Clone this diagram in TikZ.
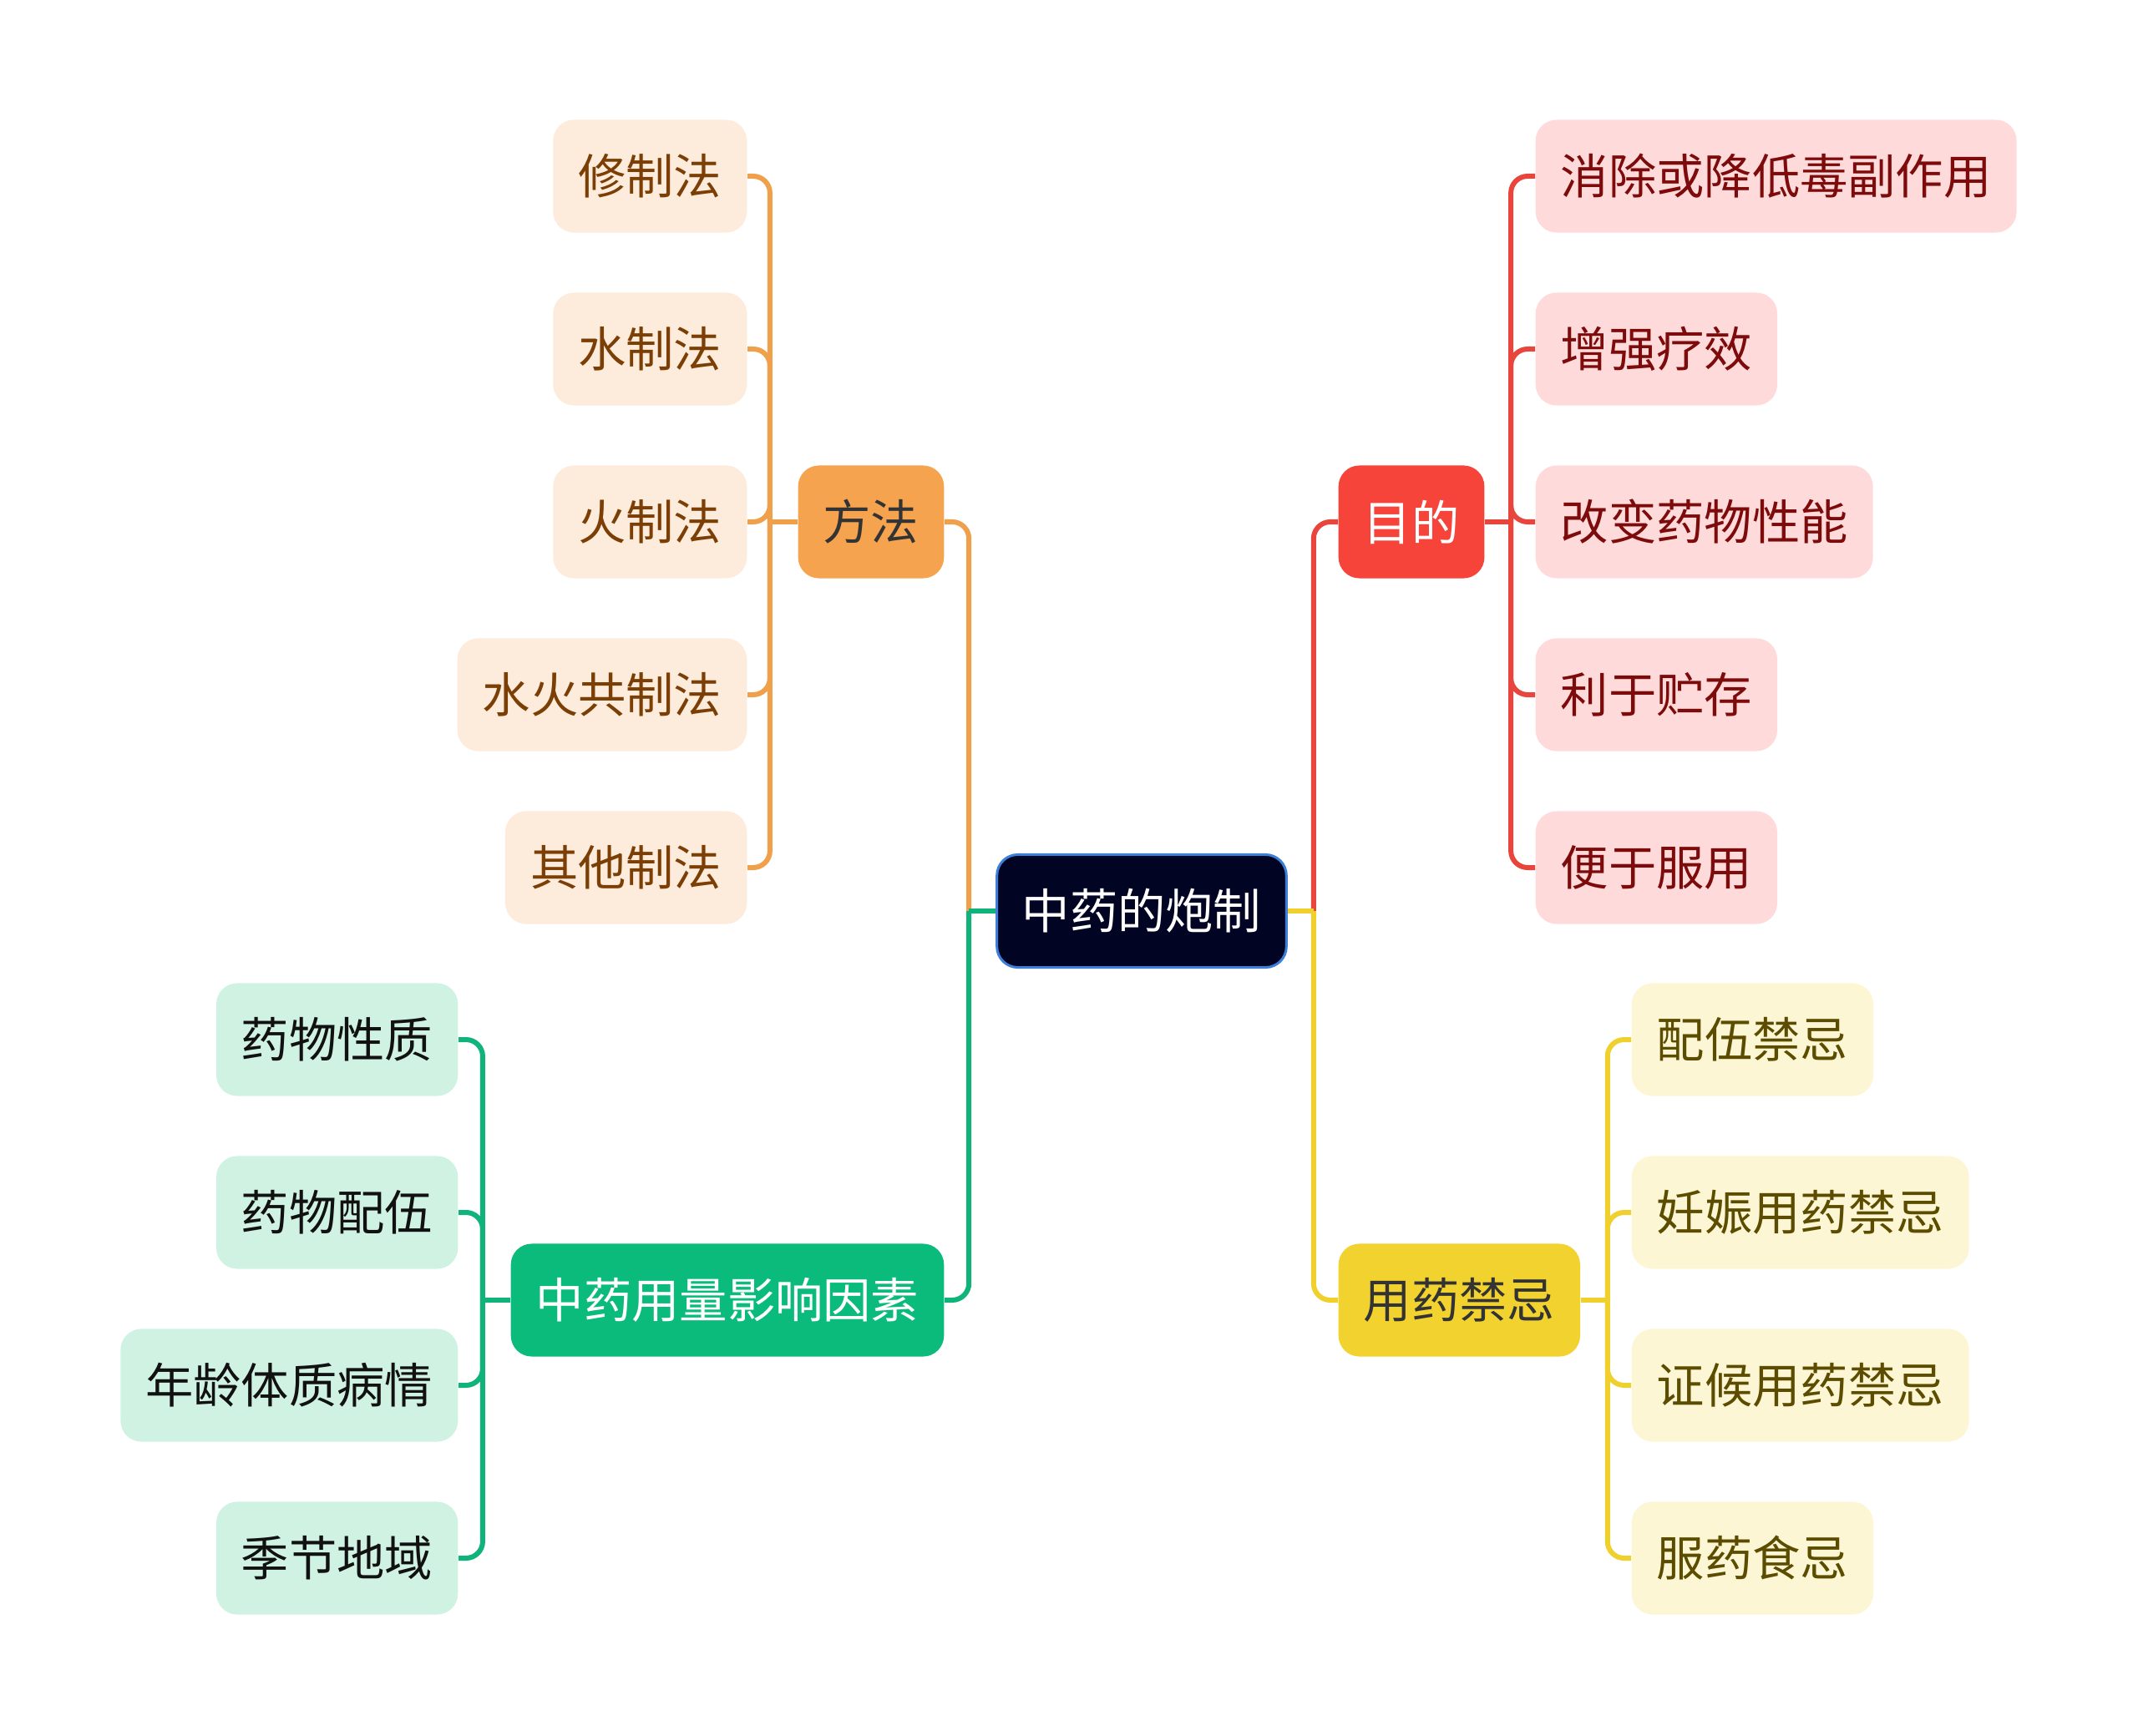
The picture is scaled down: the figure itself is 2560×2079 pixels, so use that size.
\documentclass[tikz,border=0pt]{standalone}
\usepackage{fontspec}
\newfontfamily\cjk{Noto Sans CJK SC}
\usetikzlibrary{positioning}

\definecolor{rootfill}{RGB}{2,4,36}
\definecolor{rootline}{RGB}{60,127,216}
\definecolor{hubtext}{RGB}{51,51,51}
\definecolor{orhub}{RGB}{245,163,79}
\definecolor{orline}{RGB}{240,160,75}
\definecolor{orleaf}{RGB}{253,235,219}
\definecolor{ortext}{RGB}{123,63,6}
\definecolor{redhub}{RGB}{246,68,59}
\definecolor{redline}{RGB}{232,70,61}
\definecolor{redleaf}{RGB}{254,218,218}
\definecolor{redtext}{RGB}{125,11,11}
\definecolor{grhub}{RGB}{11,187,123}
\definecolor{grline}{RGB}{16,180,122}
\definecolor{grleaf}{RGB}{207,242,227}
\definecolor{grtext}{RGB}{17,17,17}
\definecolor{yehub}{RGB}{242,210,46}
\definecolor{yeline}{RGB}{239,208,44}
\definecolor{yeleaf}{RGB}{253,246,212}
\definecolor{yetext}{RGB}{92,76,0}

\begin{document}
\begin{tikzpicture}[x=0.01cm, y=-0.01cm,
  every node/.style={font=\cjk\fontsize{16.3}{19}\selectfont},
  box/.style={rounded corners=0.25cm, minimum height=1.35cm, inner xsep=0.3cm, inner ysep=0pt},
  root/.style={box, fill=rootfill, draw=rootline, line width=0.03cm, text=white},
  stub/.style={line width=0.06cm},
  elbow/.style={stub, rounded corners=0.2cm}]
  \useasboundingbox (0,0) rectangle (2560,2079);

  % centre and main branches
  \node[root] (root) at (1367,1091) {中药的炮制};
  \node[box, fill=orhub, text=hubtext, anchor=east] (fangfa) at (1131,625) {方法};
  \node[box, fill=redhub, text=white, anchor=west] (mudi) at (1602,625) {目的};
  \node[box, fill=grhub, text=white, anchor=east] (yinsu) at (1131,1557) {中药用量影响因素};
  \node[box, fill=yehub, text=hubtext, anchor=west] (jinji) at (1602,1557) {用药禁忌};

  \coordinate (rootl) at ([xshift=-0.32cm]root.west);
  \coordinate (rootr) at ([xshift=0.31cm]root.east);
  \draw[elbow, orline] (rootl) |- (fangfa.east);
  \draw[elbow, grline] (rootl) |- (yinsu.east);
  \draw[stub, grline] (root.west) -- (rootl);
  \draw[elbow, redline] (rootr) |- (mudi.west);
  \draw[elbow, yeline] (rootr) |- (jinji.west);
  \draw[stub, yeline] (root.east) -- (rootr);

  % 方法
  \coordinate (fangfaj) at ([xshift=-0.33cm]fangfa.west);
  \draw[stub, orline] (fangfa.west) -- (fangfaj);
  \foreach \t [count=\i] in {修制法,水制法,火制法,水火共制法,其他制法} {
    \node[box, fill=orleaf, text=ortext, anchor=east] (fa\i) at (895,{211+207*(\i-1)}) {\t};
    \draw[elbow, orline] (fangfaj) |- (fa\i.east);
  }

  % 目的
  \coordinate (mudij) at ([xshift=0.31cm]mudi.east);
  \draw[stub, redline] (mudi.east) -- (mudij);
  \foreach \t [count=\i] in {消除或降低毒副作用,增强疗效,改变药物性能,利于贮存,便于服用} {
    \node[box, fill=redleaf, text=redtext, anchor=west] (md\i) at (1838,{211+207*(\i-1)}) {\t};
    \draw[elbow, redline] (mudij) |- (md\i.west);
  }

  % 中药用量影响因素
  \coordinate (yinsuj) at ([xshift=-0.33cm]yinsu.west);
  \draw[stub, grline] (yinsu.west) -- (yinsuj);
  \foreach \t [count=\i] in {药物性质,药物配伍,年龄体质病情,季节地域} {
    \node[box, fill=grleaf, text=grtext, anchor=east] (ys\i) at (549,{1245+207*(\i-1)}) {\t};
    \draw[elbow, grline] (yinsuj) |- (ys\i.east);
  }

  % 用药禁忌
  \coordinate (jinjij) at ([xshift=0.32cm]jinji.east);
  \draw[stub, yeline] (jinji.east) -- (jinjij);
  \foreach \t [count=\i] in {配伍禁忌,妊娠用药禁忌,证候用药禁忌,服药食忌} {
    \node[box, fill=yeleaf, text=yetext, anchor=west] (jj\i) at (1953,{1245+207*(\i-1)}) {\t};
    \draw[elbow, yeline] (jinjij) |- (jj\i.west);
  }
\end{tikzpicture}
\end{document}
